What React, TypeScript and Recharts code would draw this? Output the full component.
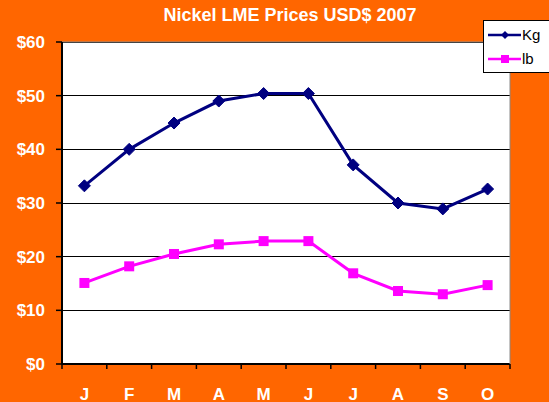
import { LineChart, Line, XAxis, YAxis, CartesianGrid } from 'recharts';

const MONTHS = ['J', 'F', 'M', 'A', 'M', 'J', 'J', 'A', 'S', 'O'];
const KG_PRICES = [33.2, 40, 44.9, 49, 50.4, 50.4, 37.1, 30, 28.9, 32.6];
const LB_PRICES = [15.1, 18.2, 20.5, 22.3, 22.9, 22.9, 16.9, 13.6, 13, 14.7];
const Y_TICKS = [0, 10, 20, 30, 40, 50, 60];

const data = MONTHS.map((m, i) => ({ key: `${m}${i}`, month: m, Kg: KG_PRICES[i], lb: LB_PRICES[i] }));

const ORANGE = '#FF6600';
const NAVY = '#000080';
const MAGENTA = '#FF00FF';
const FONT = 'Arial, "Liberation Sans", sans-serif';

const MonthTick = (props: any) => {
    const { x, y, payload, index } = props;
    const half = payload && payload.offset ? payload.offset : 22.4;
    const axisY = y - 8;
    return (
        <g>
            <line x1={x - half} x2={x - half} y1={axisY} y2={axisY + 5} stroke="#000" strokeWidth={1.5} />
            {index === MONTHS.length - 1 && (
                <line x1={x + half} x2={x + half} y1={axisY} y2={axisY + 5} stroke="#000" strokeWidth={1.5} />
            )}
            <text x={x} y={axisY + 36} textAnchor="middle" fill="#fff" fontFamily={FONT} fontWeight="bold" fontSize={17}>
                {MONTHS[index]}
            </text>
        </g>
    );
};

const Diamond = (props: any) => {
    const { cx, cy } = props;
    if (cx == null || cy == null) return null;
    return <path d={`M${cx},${cy - 6} L${cx + 6},${cy} L${cx},${cy + 6} L${cx - 6},${cy} Z`} fill={NAVY} stroke={NAVY} />;
};

const Square = (props: any) => {
    const { cx, cy } = props;
    if (cx == null || cy == null) return null;
    return <rect x={cx - 5} y={cy - 5} width={10} height={10} fill={MAGENTA} />;
};

const LegendBox = () => (
    <div
        style={{
            position: 'absolute',
            left: 483,
            top: 20,
            background: '#fff',
            border: '1px solid #000',
            width: 80,
            height: 51,
        }}
    >
        <svg width={80} height={51} style={{ position: 'absolute', left: 0, top: 0 }}>
            <line x1={4} x2={37} y1={14} y2={14} stroke={NAVY} strokeWidth={2.5} />
            <path d="M21,10 L25,14 L21,18 L17,14 Z" fill={NAVY} />
            <line x1={4} x2={37} y1={38} y2={38} stroke={MAGENTA} strokeWidth={2.5} />
            <rect x={17} y={34} width={8} height={8} fill={MAGENTA} />
            <text x={38} y={19} fontFamily={FONT} fontSize={15}>Kg</text>
            <text x={38} y={43} fontFamily={FONT} fontSize={15}>lb</text>
        </svg>
    </div>
);

export default function App() {
    return (
        <div style={{ position: 'fixed', left: 0, top: 0, width: 549, height: 402, background: ORANGE, overflow: 'hidden' }}>
            <div
                style={{
                    position: 'absolute',
                    left: 0,
                    width: 580,
                    top: 5,
                    textAlign: 'center',
                    color: '#fff',
                    fontFamily: FONT,
                    fontWeight: 'bold',
                    fontSize: 18,
                }}
            >
                Nickel LME Prices USD$ 2007
            </div>
            <LineChart width={549} height={402} data={data} margin={{ top: 41, right: 38, bottom: 0, left: 0 }}>
                <CartesianGrid vertical={false} stroke="#000" strokeWidth={1} fill="#fff" fillOpacity={1} shapeRendering="crispEdges" />
                <XAxis
                    dataKey="key"
                    scale="band"
                    height={38}
                    axisLine={{ stroke: '#000', strokeWidth: 2 }}
                    tickLine={false}
                    tick={<MonthTick />}
                    interval={0}
                />
                <XAxis xAxisId="top" orientation="top" dataKey="key" height={1} axisLine={{ stroke: '#888' }} tick={false} tickLine={false} />
                <YAxis
                    domain={[0, 60]}
                    ticks={Y_TICKS}
                    width={62}
                    interval={0}
                    axisLine={{ stroke: '#000', strokeWidth: 2 }}
                    tickLine={{ stroke: '#000', strokeWidth: 1.5 }}
                    tickSize={6}
                    tickMargin={11}
                    tickFormatter={(v: number) => `$${v}`}
                    tick={{ fill: '#fff', fontFamily: FONT, fontWeight: 'bold', fontSize: 17 }}
                />
                <YAxis yAxisId="right" orientation="right" domain={[0, 60]} width={1} axisLine={{ stroke: '#888' }} tick={false} tickLine={false} />
                <Line dataKey="Kg" stroke={NAVY} strokeWidth={3} dot={<Diamond />} isAnimationActive={false} />
                <Line dataKey="lb" stroke={MAGENTA} strokeWidth={3} dot={<Square />} isAnimationActive={false} />
            </LineChart>
            <LegendBox />
        </div>
    );
}
